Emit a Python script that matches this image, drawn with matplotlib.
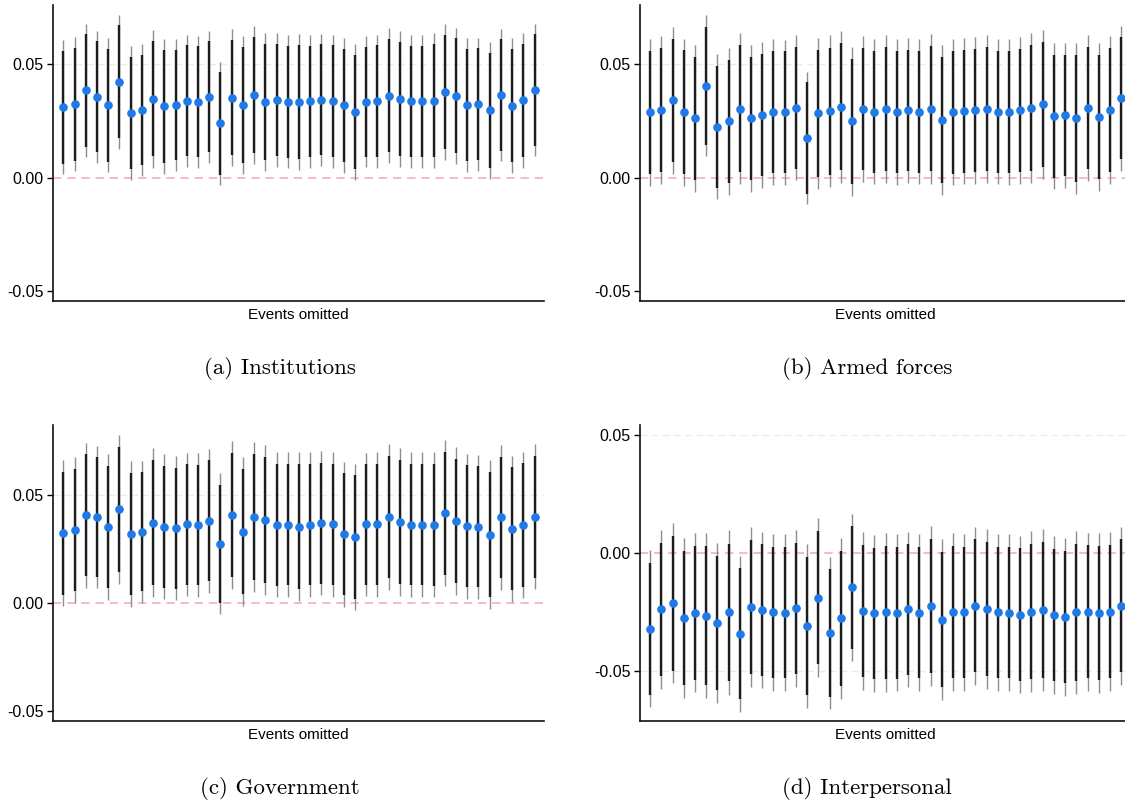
import matplotlib
matplotlib.use("Agg")
import matplotlib.pyplot as plt
import numpy as np

plt.rcParams["font.family"] = ["Liberation Sans", "DejaVu Sans"]
plt.rcParams["axes.unicode_minus"] = False

# Leave-one-event-out estimates and standard errors, one per omitted event
institutions_est = [0.0310, 0.0323, 0.0383, 0.0355, 0.0319, 0.0421, 0.0284, 0.0297, 0.0346, 0.0313,
                    0.0319, 0.0338, 0.0333, 0.0355, 0.0238, 0.0352, 0.0320, 0.0365, 0.0332, 0.0341,
                    0.0333, 0.0333, 0.0335, 0.0342, 0.0336, 0.0317, 0.0289, 0.0333, 0.0336, 0.0360,
                    0.0346, 0.0335, 0.0335, 0.0338, 0.0377, 0.0360, 0.0320, 0.0322, 0.0295, 0.0363,
                    0.0316, 0.0339, 0.0385]
institutions_se = [0.0151, 0.0151, 0.0150, 0.0148, 0.0151, 0.0151, 0.0150, 0.0148, 0.0154, 0.0151,
                   0.0148, 0.0148, 0.0148, 0.0148, 0.0138, 0.0153, 0.0155, 0.0155, 0.0155, 0.0150,
                   0.0149, 0.0153, 0.0149, 0.0148, 0.0149, 0.0152, 0.0153, 0.0147, 0.0149, 0.0151,
                   0.0152, 0.0149, 0.0149, 0.0151, 0.0152, 0.0153, 0.0150, 0.0150, 0.0154, 0.0149,
                   0.0151, 0.0151, 0.0149]

armed_est = [0.0287, 0.0297, 0.0339, 0.0288, 0.0260, 0.0404, 0.0224, 0.0247, 0.0303, 0.0260,
             0.0275, 0.0288, 0.0287, 0.0307, 0.0174, 0.0282, 0.0292, 0.0311, 0.0247, 0.0301,
             0.0289, 0.0300, 0.0288, 0.0295, 0.0289, 0.0303, 0.0254, 0.0287, 0.0291, 0.0295,
             0.0300, 0.0289, 0.0288, 0.0295, 0.0307, 0.0322, 0.0270, 0.0273, 0.0260, 0.0306,
             0.0268, 0.0297, 0.0349]
armed_se = [0.0165, 0.0166, 0.0165, 0.0165, 0.0164, 0.0158, 0.0163, 0.0165, 0.0169, 0.0165,
            0.0163, 0.0163, 0.0163, 0.0163, 0.0149, 0.0169, 0.0170, 0.0170, 0.0168, 0.0164,
            0.0163, 0.0166, 0.0163, 0.0163, 0.0163, 0.0168, 0.0168, 0.0164, 0.0164, 0.0165,
            0.0166, 0.0163, 0.0163, 0.0164, 0.0168, 0.0167, 0.0164, 0.0163, 0.0169, 0.0164,
            0.0166, 0.0166, 0.0163]

government_est = [0.0322, 0.0337, 0.0406, 0.0397, 0.0352, 0.0432, 0.0318, 0.0328, 0.0371, 0.0352,
                  0.0345, 0.0363, 0.0360, 0.0380, 0.0274, 0.0405, 0.0329, 0.0398, 0.0383, 0.0362,
                  0.0362, 0.0352, 0.0362, 0.0369, 0.0363, 0.0318, 0.0305, 0.0363, 0.0363, 0.0398,
                  0.0374, 0.0362, 0.0362, 0.0362, 0.0414, 0.0378, 0.0355, 0.0352, 0.0315, 0.0395,
                  0.0343, 0.0360, 0.0398]
government_se = [0.0172, 0.0172, 0.0171, 0.0168, 0.0172, 0.0176, 0.0172, 0.0167, 0.0176, 0.0171,
                 0.0170, 0.0169, 0.0169, 0.0170, 0.0166, 0.0174, 0.0176, 0.0177, 0.0176, 0.0171,
                 0.0170, 0.0175, 0.0170, 0.0170, 0.0170, 0.0171, 0.0173, 0.0169, 0.0170, 0.0172,
                 0.0174, 0.0170, 0.0170, 0.0171, 0.0172, 0.0175, 0.0171, 0.0170, 0.0176, 0.0170,
                 0.0172, 0.0173, 0.0171]

interpersonal_est = [-0.0320, -0.0238, -0.0212, -0.0275, -0.0252, -0.0264, -0.0295, -0.0251, -0.0341, -0.0227,
                     -0.0240, -0.0251, -0.0252, -0.0234, -0.0307, -0.0188, -0.0337, -0.0276, -0.0145, -0.0244,
                     -0.0255, -0.0251, -0.0252, -0.0238, -0.0252, -0.0223, -0.0281, -0.0250, -0.0251, -0.0223,
                     -0.0237, -0.0251, -0.0252, -0.0260, -0.0247, -0.0240, -0.0262, -0.0269, -0.0250, -0.0248,
                     -0.0254, -0.0247, -0.0223]
interpersonal_se = [0.0169, 0.0171, 0.0173, 0.0172, 0.0172, 0.0178, 0.0173, 0.0177, 0.0168, 0.0172,
                    0.0169, 0.0169, 0.0169, 0.0169, 0.0177, 0.0171, 0.0164, 0.0174, 0.0159, 0.0170,
                    0.0169, 0.0171, 0.0170, 0.0168, 0.0169, 0.0172, 0.0174, 0.0170, 0.0169, 0.0171,
                    0.0173, 0.0169, 0.0169, 0.0170, 0.0174, 0.0174, 0.0170, 0.0170, 0.0176, 0.0171,
                    0.0173, 0.0171, 0.0171]

panel_captions = ["(a) Institutions", "(b) Armed forces", "(c) Government", "(d) Interpersonal"]
x_label = "Events omitted"
y_ticks = [-0.05, 0.0, 0.05]

Z90, Z95 = 1.645, 1.96

W, H = 1125, 805
fig = plt.figure(figsize=(W / 100, H / 100), dpi=100)
fig.patch.set_facecolor("white")


def px_axes(left, top, width, height):
    return fig.add_axes([left / W, 1 - (top + height) / H, width / W, height / H])


panels = [
    (institutions_est, institutions_se, (53.3, 5), (-0.0543, 0.0759), [0.05]),
    (armed_est, armed_se, (640, 5), (-0.0543, 0.0759), [0.05]),
    (government_est, government_se, (53.3, 425), (-0.0545, 0.0822), [0.05]),
    (interpersonal_est, interpersonal_se, (640, 425), (-0.0710, 0.0542), [0.05, -0.05]),
]

for (est, se, (lx, ty), ylim, grid_at), caption in zip(panels, panel_captions):
    est = np.asarray(est)
    se = np.asarray(se)
    x = np.arange(1, len(est) + 1)
    ax = px_axes(lx, ty, 491, 296)

    for g in grid_at:
        ax.axhline(g, color="#ebebeb", lw=1.0, ls=(0, (5, 3)), zorder=0)
    ax.axhline(0, color="#f5b0b0", lw=1.2, ls=(0, (5, 3.5)), zorder=1)

    ax.vlines(x, est - Z95 * se, est + Z95 * se, color="#8e8e8e", lw=1.0, zorder=2)
    ax.vlines(x, est - Z90 * se, est + Z90 * se, color="#1c1c1c", lw=1.7, zorder=3)
    ax.plot(x, est, "o", color="#1f7ae8", ms=5.2, mec="#1f7ae8", zorder=4)

    ax.set_xlim(0.1, len(est) + 0.87)
    ax.set_ylim(*ylim)
    ax.set_yticks(y_ticks)
    ax.set_yticklabels([f"{t:.2f}" for t in y_ticks])
    ax.set_xticks([])
    ax.tick_params(axis="y", length=4, width=1.0, labelsize=11.5, pad=3)
    ax.set_xlabel(x_label, fontsize=11, labelpad=5)
    for side in ("top", "right"):
        ax.spines[side].set_visible(False)
    for side in ("left", "bottom"):
        ax.spines[side].set_linewidth(1.2)
        ax.spines[side].set_color("#111111")

    cap_x = (lx + 227) / W
    cap_y = 1 - (ty + 363) / H
    fig.text(cap_x, cap_y, caption, family="cmr10", fontsize=16.5,
             ha="center", va="center")

fig.savefig("out.png", dpi=100, facecolor="white")
